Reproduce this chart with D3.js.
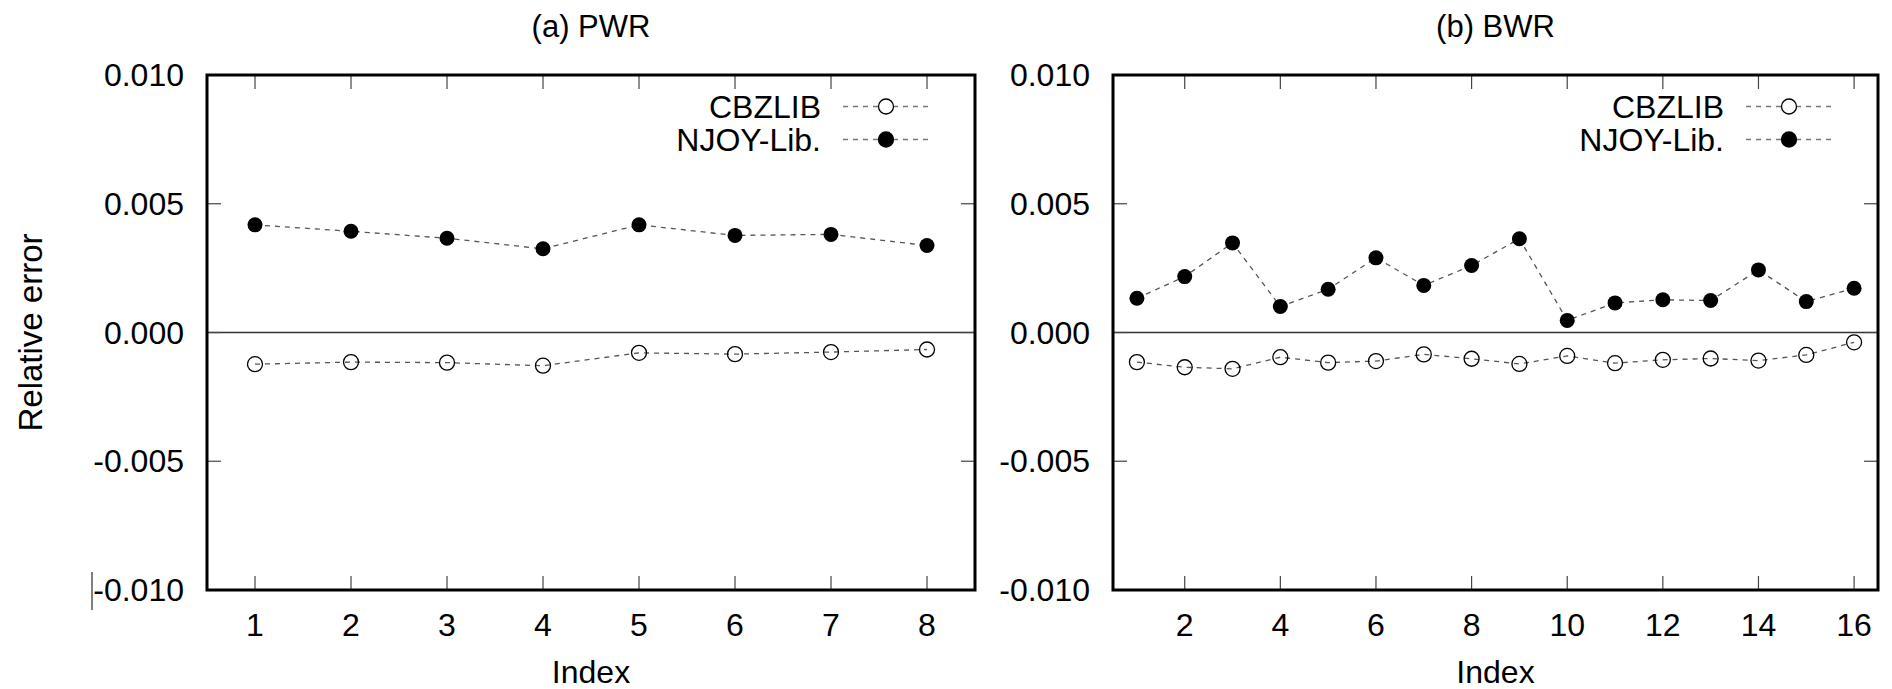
<!DOCTYPE html>
<html>
<head>
<meta charset="utf-8">
<script src="https://cdnjs.cloudflare.com/ajax/libs/d3/7.8.5/d3.min.js"></script>
<style>
  body { margin: 0; background: #fff; }
  text { font-family: "Liberation Sans", Arial, sans-serif; fill: #000; }
</style>
</head>
<body>
<script>

// data
var pwrIndex  = [1, 2, 3, 4, 5, 6, 7, 8];
var pwrCbzlib = [-0.00123, -0.00115, -0.00117, -0.00129, -0.00079, -0.00084, -0.00076, -0.00066];
var pwrNjoy   = [0.00418, 0.00393, 0.00366, 0.00325, 0.00418, 0.00377, 0.00381, 0.00338];

var bwrIndex  = [1, 2, 3, 4, 5, 6, 7, 8, 9, 10, 11, 12, 13, 14, 15, 16];
var bwrCbzlib = [-0.00115, -0.00135, -0.00141, -0.00096, -0.00117, -0.00111, -0.00085, -0.00102,
                 -0.00122, -0.00091, -0.00119, -0.00106, -0.00101, -0.00109, -0.00087, -0.00038];
var bwrNjoy   = [0.00133, 0.00217, 0.00348, 0.00101, 0.00168, 0.00290, 0.00183, 0.00260,
                 0.00364, 0.00047, 0.00115, 0.00127, 0.00124, 0.00243, 0.00120, 0.00172];

var yTicks   = [-0.010, -0.005, 0.000, 0.005, 0.010];
var pwrTicks = [1, 2, 3, 4, 5, 6, 7, 8];
var bwrTicks = [2, 4, 6, 8, 10, 12, 14, 16];
var seriesNames = ["CBZLIB", "NJOY-Lib."];

var width = 1892, height = 689;
var plotTop = 75, plotBottom = 590;

var svg = d3.select("body").append("svg")
    .attr("width", width)
    .attr("height", height);

var y = d3.scaleLinear().domain([-0.010, 0.010]).range([plotBottom, plotTop]);

function drawPanel(left, right, xDomain, xTicks, idx, cbz, njoy, title) {
  var x = d3.scaleLinear().domain(xDomain).range([left, right]);
  var g = svg.append("g");

  // zero line
  g.append("line")
      .attr("x1", left).attr("x2", right)
      .attr("y1", y(0)).attr("y2", y(0))
      .attr("stroke", "#333").attr("stroke-width", 1.5);

  // ticks on all four sides, pointing inward
  var tickLen = 14;
  xTicks.forEach(function(t) {
    g.append("line").attr("x1", x(t)).attr("x2", x(t))
        .attr("y1", plotBottom).attr("y2", plotBottom - tickLen)
        .attr("stroke", "#444").attr("stroke-width", 1.2);
    g.append("line").attr("x1", x(t)).attr("x2", x(t))
        .attr("y1", plotTop).attr("y2", plotTop + tickLen)
        .attr("stroke", "#444").attr("stroke-width", 1.2);
  });
  yTicks.forEach(function(t) {
    g.append("line").attr("x1", left).attr("x2", left + tickLen)
        .attr("y1", y(t)).attr("y2", y(t))
        .attr("stroke", "#444").attr("stroke-width", 1.2);
    g.append("line").attr("x1", right).attr("x2", right - tickLen)
        .attr("y1", y(t)).attr("y2", y(t))
        .attr("stroke", "#444").attr("stroke-width", 1.2);
  });

  // tick labels
  g.selectAll(".ylab")
      .data(yTicks)
    .enter().append("text")
      .attr("x", left - 23)
      .attr("y", function(d) { return y(d); })
      .attr("dy", "0.35em")
      .style("text-anchor", "end")
      .attr("font-size", "32px")
      .text(function(d) { return d3.format(".3f")(d).replace("−", "-"); });

  g.selectAll(".xlab")
      .data(xTicks)
    .enter().append("text")
      .attr("x", function(d) { return x(d); })
      .attr("y", 636)
      .style("text-anchor", "middle")
      .attr("font-size", "32px")
      .text(function(d) { return d; });

  // series
  var line = d3.line()
      .x(function(d) { return x(d[0]); })
      .y(function(d) { return y(d[1]); });

  var cbzPts = idx.map(function(d, i) { return [d, cbz[i]]; });
  var njoyPts = idx.map(function(d, i) { return [d, njoy[i]]; });

  [cbzPts, njoyPts].forEach(function(pts) {
    g.append("path")
        .datum(pts)
        .attr("d", line)
        .attr("fill", "none")
        .attr("stroke", "#555")
        .attr("stroke-width", 1.3)
        .attr("stroke-dasharray", "5,5");
  });

  g.selectAll(".cbz")
      .data(cbzPts)
    .enter().append("circle")
      .attr("cx", function(d) { return x(d[0]); })
      .attr("cy", function(d) { return y(d[1]); })
      .attr("r", 7.5)
      .attr("fill", "none")
      .attr("stroke", "#000")
      .attr("stroke-width", 1.3);

  g.selectAll(".njoy")
      .data(njoyPts)
    .enter().append("circle")
      .attr("cx", function(d) { return x(d[0]); })
      .attr("cy", function(d) { return y(d[1]); })
      .attr("r", 7.5)
      .attr("fill", "#000");

  // legend
  var legY = [106.5, 139.5];
  seriesNames.forEach(function(name, i) {
    g.append("line")
        .attr("x1", right - 132).attr("x2", right - 46)
        .attr("y1", legY[i]).attr("y2", legY[i])
        .attr("stroke", "#777").attr("stroke-width", 1.3)
        .attr("stroke-dasharray", "5,5");
    g.append("circle")
        .attr("cx", right - 89).attr("cy", legY[i])
        .attr("r", 7.5)
        .attr("fill", i == 0 ? "#fff" : "#000")
        .attr("stroke", "#000")
        .attr("stroke-width", 1.3);
    g.append("text")
        .attr("x", right - 154)
        .attr("y", legY[i])
        .attr("dy", "0.35em")
        .style("text-anchor", "end")
        .attr("font-size", "32px")
        .text(name);
  });

  // frame
  g.append("rect")
      .attr("x", left).attr("y", plotTop)
      .attr("width", right - left).attr("height", plotBottom - plotTop)
      .attr("fill", "none")
      .attr("stroke", "#000")
      .attr("stroke-width", 3);

  // title and x label
  g.append("text")
      .attr("x", (left + right) / 2)
      .attr("y", 37)
      .style("text-anchor", "middle")
      .attr("font-size", "31px")
      .text(title);

  g.append("text")
      .attr("x", (left + right) / 2)
      .attr("y", 683)
      .style("text-anchor", "middle")
      .attr("font-size", "32px")
      .text("Index");
}

drawPanel(207, 975, [0.5, 8.5], pwrTicks, pwrIndex, pwrCbzlib, pwrNjoy, "(a) PWR");
drawPanel(1113, 1878, [0.5, 16.5], bwrTicks, bwrIndex, bwrCbzlib, bwrNjoy, "(b) BWR");

svg.append("text")
    .attr("transform", "translate(42," + ((plotTop + plotBottom) / 2) + ") rotate(-90)")
    .style("text-anchor", "middle")
    .attr("font-size", "33px")
    .text("Relative error");

// small stray mark left of the lowest tick label
svg.append("line")
    .attr("x1", 92).attr("x2", 92)
    .attr("y1", 572).attr("y2", 610)
    .attr("stroke", "#555").attr("stroke-width", 1.5);

</script>
</body>
</html>
